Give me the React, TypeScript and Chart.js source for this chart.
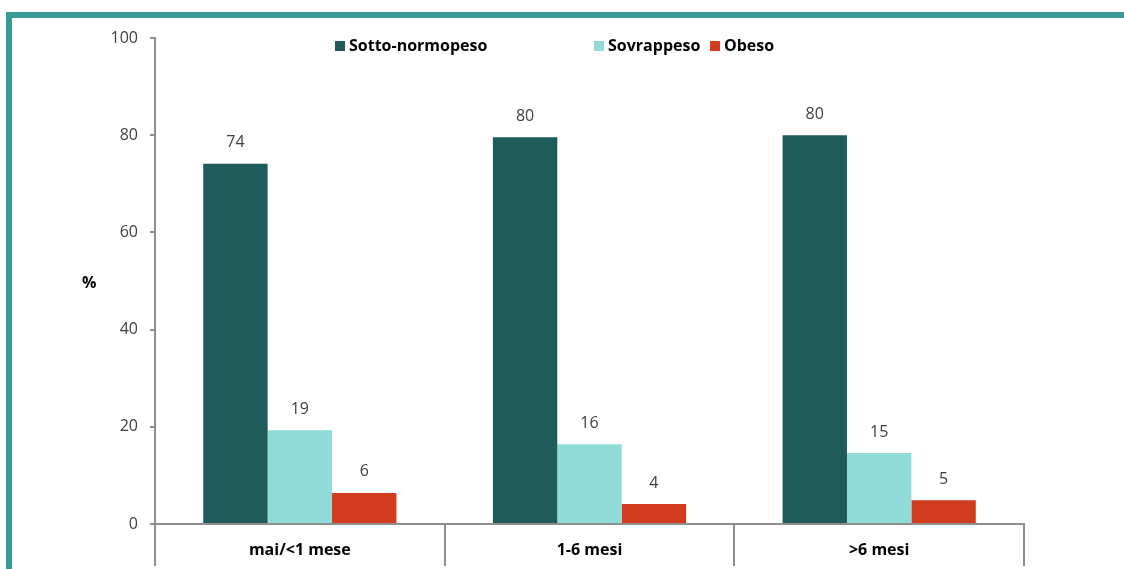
import React, { useEffect, useRef } from "react";
import { Chart, registerables } from "chart.js";

Chart.register(...registerables);

const categories = ["mai/<1 mese", "1-6 mesi", ">6 mesi"];
const seriesNames = ["Sotto-normopeso", "Sovrappeso", "Obeso"];
const sottoNormopeso = [74.1, 79.6, 80.0];
const sovrappeso = [19.3, 16.4, 14.6];
const obeso = [6.4, 4.1, 4.9];
const seriesColors = ["#1f5b5a", "#90dbd8", "#d23b1e"];
const yTicks = [0, 20, 40, 60, 80, 100];

const FONT = "'Open Sans', 'Noto Sans', sans-serif";
const AXIS_GRAY = "#8e8e8e";

const framePlugin = {
  id: "frame",
  beforeDraw(chart: any) {
    const { ctx, width, height } = chart;
    ctx.save();
    ctx.fillStyle = "#ffffff";
    ctx.fillRect(0, 0, width, height);
    ctx.fillStyle = "#389b96";
    ctx.fillRect(6, 12, width - 6, 6);
    ctx.fillRect(6, 12, 6, height - 12);
    ctx.restore();
  },
};

const labelsPlugin = {
  id: "barLabels",
  afterDatasetsDraw(chart: any) {
    const { ctx } = chart;
    ctx.save();
    ctx.font = `16px ${FONT}`;
    ctx.fillStyle = "#404040";
    ctx.textAlign = "center";
    ctx.textBaseline = "middle";
    chart.data.datasets.forEach((ds: any, i: number) => {
      const meta = chart.getDatasetMeta(i);
      meta.data.forEach((bar: any, j: number) => {
        ctx.fillText(String(Math.round(ds.data[j])), bar.x, bar.y - 21);
      });
    });
    ctx.restore();
  },
};

const legendPlugin = {
  id: "customLegend",
  afterDraw(chart: any) {
    const { ctx } = chart;
    const xs = [335, 594, 710];
    const y = 46;
    ctx.save();
    ctx.font = `bold 16px ${FONT}`;
    ctx.textBaseline = "middle";
    ctx.textAlign = "left";
    seriesNames.forEach((name, i) => {
      ctx.fillStyle = seriesColors[i];
      ctx.fillRect(xs[i], y - 5, 10, 10);
      ctx.fillStyle = "#000000";
      ctx.fillText(name, xs[i] + 14, y);
    });
    // axis title "%"
    ctx.fillText("%", 82, 283);
    ctx.restore();
  },
};

export default function App() {
  const ref = useRef<HTMLCanvasElement | null>(null);

  useEffect(() => {
    document.body.style.margin = "0";
    const canvas = ref.current;
    if (!canvas) return;
    const chart = new Chart(canvas, {
      type: "bar",
      data: {
        labels: categories,
        datasets: [
          { label: seriesNames[0], data: sottoNormopeso, backgroundColor: seriesColors[0] },
          { label: seriesNames[1], data: sovrappeso, backgroundColor: seriesColors[1] },
          { label: seriesNames[2], data: obeso, backgroundColor: seriesColors[2] },
        ],
      },
      options: {
        responsive: false,
        animation: false,
        datasets: {
          bar: { categoryPercentage: 0.667, barPercentage: 1.0 },
        },
        layout: { padding: { top: 38, right: 100, left: 0, bottom: 0 } },
        plugins: {
          legend: { display: false },
          tooltip: { enabled: false },
        },
        scales: {
          x: {
            afterFit: (s: any) => {
              s.height = 45;
            },
            border: { display: true, color: AXIS_GRAY, width: 2 },
            grid: {
              offset: true,
              drawOnChartArea: false,
              drawTicks: true,
              tickLength: 42,
              color: AXIS_GRAY,
              lineWidth: 2,
            },
            ticks: {
              padding: -25,
              color: "#000000",
              font: { family: FONT, size: 16, weight: "bold" },
            },
          },
          y: {
            min: 0,
            max: 100,
            afterFit: (s: any) => {
              s.width = 155;
            },
            afterBuildTicks: (s: any) => {
              s.ticks = yTicks.map((v) => ({ value: v }));
            },
            border: { display: true, color: AXIS_GRAY, width: 2 },
            grid: {
              drawOnChartArea: false,
              drawTicks: true,
              tickLength: 5,
              color: AXIS_GRAY,
              lineWidth: 2,
            },
            ticks: {
              padding: 12,
              color: "#404040",
              font: { family: FONT, size: 16 },
            },
          },
        },
      },
      plugins: [framePlugin, labelsPlugin, legendPlugin],
    } as any);
    return () => chart.destroy();
  }, []);

  return (
    <div style={{ width: 1124, height: 569 }}>
      <canvas ref={ref} width={1124} height={569} style={{ display: "block" }} />
    </div>
  );
}
